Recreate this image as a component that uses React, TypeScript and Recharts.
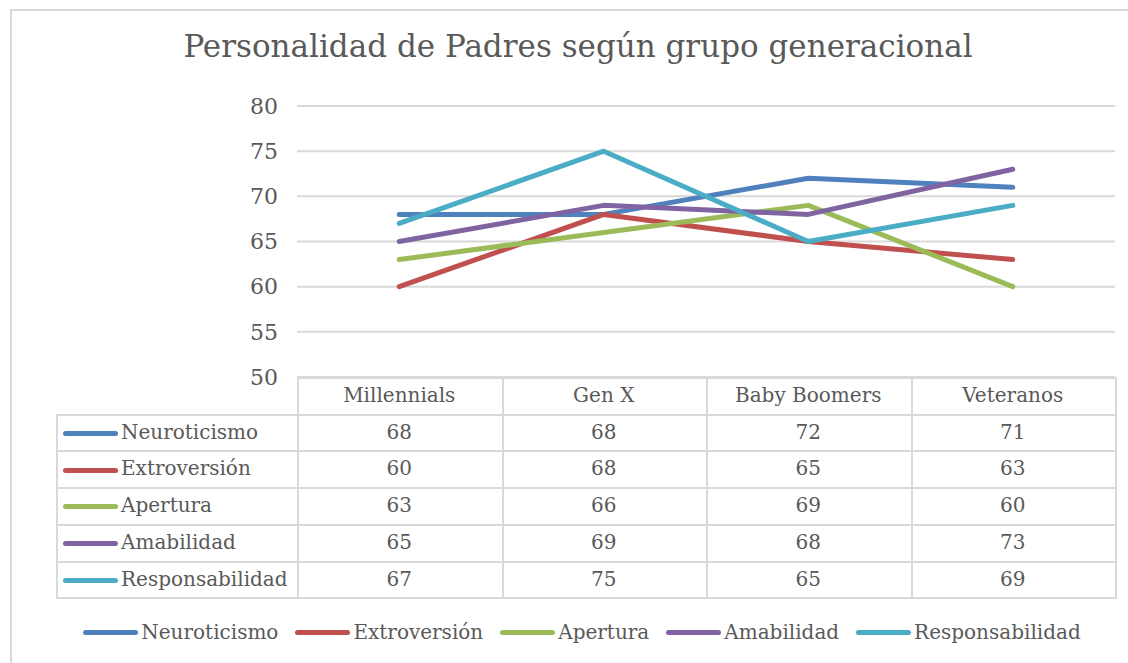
import { LineChart, Line, XAxis, YAxis, CartesianGrid } from 'recharts';

const categories = ['Millennials', 'Gen X', 'Baby Boomers', 'Veteranos'];
const neuroticismo = [68, 68, 72, 71];
const extroversion = [60, 68, 65, 63];
const apertura = [63, 66, 69, 60];
const amabilidad = [65, 69, 68, 73];
const responsabilidad = [67, 75, 65, 69];
const yTicks = [50, 55, 60, 65, 70, 75, 80];

const series = [
  { key: 'neuroticismo', name: 'Neuroticismo', color: '#4F81BD', values: neuroticismo },
  { key: 'extroversion', name: 'Extroversión', color: '#C0504D', values: extroversion },
  { key: 'apertura', name: 'Apertura', color: '#9BBB59', values: apertura },
  { key: 'amabilidad', name: 'Amabilidad', color: '#8064A2', values: amabilidad },
  { key: 'responsabilidad', name: 'Responsabilidad', color: '#4BACC6', values: responsabilidad },
];

const data = categories.map((cat, i) => {
  const row: Record<string, string | number> = { cat };
  series.forEach((s) => {
    row[s.key] = s.values[i];
  });
  return row;
});

const FONT = '"DejaVu Serif", serif';
const TEXT = '#595959';
const GRID = '#d9d9d9';

// table geometry (matches plot area)
const plotLeft = 297;
const plotRight = 1115;
const tableLeft = 56;
const headerTop = 377;
const rowH = 36.7;
const colW = (plotRight - plotLeft) / categories.length;

function DataTable() {
  const bodyTop = headerTop + rowH;
  const bottom = bodyTop + rowH * series.length;
  const lines: JSX.Element[] = [];
  // horizontal lines
  lines.push(
    <div key="h-top" style={{ position: 'absolute', left: plotLeft, top: headerTop, width: plotRight - plotLeft, height: 2, background: GRID }} />
  );
  for (let r = 0; r <= series.length; r++) {
    lines.push(
      <div key={'h' + r} style={{ position: 'absolute', left: tableLeft, top: bodyTop + r * rowH, width: plotRight - tableLeft, height: 2, background: GRID }} />
    );
  }
  // vertical lines
  lines.push(
    <div key="v-left" style={{ position: 'absolute', left: tableLeft, top: bodyTop, width: 2, height: bottom - bodyTop + 2, background: GRID }} />
  );
  for (let c = 0; c <= categories.length; c++) {
    lines.push(
      <div key={'v' + c} style={{ position: 'absolute', left: plotLeft + c * colW, top: headerTop, width: 2, height: bottom - headerTop + 2, background: GRID }} />
    );
  }

  return (
    <>
      {lines}
      {categories.map((cat, c) => (
        <div
          key={cat}
          style={{ position: 'absolute', left: plotLeft + c * colW, top: headerTop, width: colW, height: rowH, lineHeight: rowH + 'px', textAlign: 'center', fontSize: 20, color: TEXT }}
        >
          {cat}
        </div>
      ))}
      {series.map((s, r) => (
        <div key={s.key}>
          <div style={{ position: 'absolute', left: 63, top: bodyTop + r * rowH + rowH / 2 - 1, width: 55, height: 5, borderRadius: 3, background: s.color }} />
          <div style={{ position: 'absolute', left: 121, top: bodyTop + r * rowH, height: rowH, lineHeight: rowH + 'px', fontSize: 20, color: TEXT, whiteSpace: 'nowrap' }}>
            {s.name}
          </div>
          {s.values.map((v, c) => (
            <div
              key={c}
              style={{ position: 'absolute', left: plotLeft + c * colW, top: bodyTop + r * rowH, width: colW, height: rowH, lineHeight: rowH + 'px', textAlign: 'center', fontSize: 20, color: TEXT }}
            >
              {v}
            </div>
          ))}
        </div>
      ))}
    </>
  );
}

function BottomLegend() {
  return (
    <div style={{ position: 'absolute', left: 36, top: 620, width: 1092, display: 'flex', justifyContent: 'center', alignItems: 'center', gap: 17 }}>
      {series.map((s) => (
        <div key={s.key} style={{ display: 'flex', alignItems: 'center' }}>
          <div style={{ width: 55, height: 5, borderRadius: 3, background: s.color, marginRight: 3 }} />
          <span style={{ fontSize: 20, color: TEXT, whiteSpace: 'nowrap' }}>{s.name}</span>
        </div>
      ))}
    </div>
  );
}

export default function App() {
  return (
    <div style={{ position: 'absolute', left: 0, top: 0, width: 1128, height: 663, background: '#fff', fontFamily: FONT, overflow: 'hidden' }}>
      <div style={{ position: 'absolute', left: 10, top: 9, right: -5, bottom: -5, border: `2px solid ${GRID}` }} />
      <div style={{ position: 'absolute', left: 0, top: 28, width: 1156, textAlign: 'center', fontSize: 31, color: TEXT, whiteSpace: 'nowrap' }}>
        Personalidad de Padres según grupo generacional
      </div>
      <div style={{ position: 'absolute', left: 0, top: 0 }}>
        <LineChart width={1128} height={663} data={data} margin={{ top: 106, right: 13, bottom: 286, left: 247 }}>
          <CartesianGrid vertical={false} stroke={GRID} strokeWidth={2} />
          <XAxis dataKey="cat" hide padding={{ left: colW / 2, right: colW / 2 }} />
          <YAxis
            width={50}
            domain={[50, 80]}
            ticks={yTicks}
            axisLine={false}
            tickLine={false}
            tickMargin={13}
            tick={{ fontSize: 22, fill: TEXT, fontFamily: FONT }}
          />
          {series.map((s) => (
            <Line
              key={s.key}
              type="linear"
              dataKey={s.key}
              name={s.name}
              stroke={s.color}
              strokeWidth={5}
              strokeLinecap="round"
              strokeLinejoin="round"
              dot={false}
              activeDot={false}
              isAnimationActive={false}
            />
          ))}
        </LineChart>
      </div>
      <DataTable />
      <BottomLegend />
    </div>
  );
}
